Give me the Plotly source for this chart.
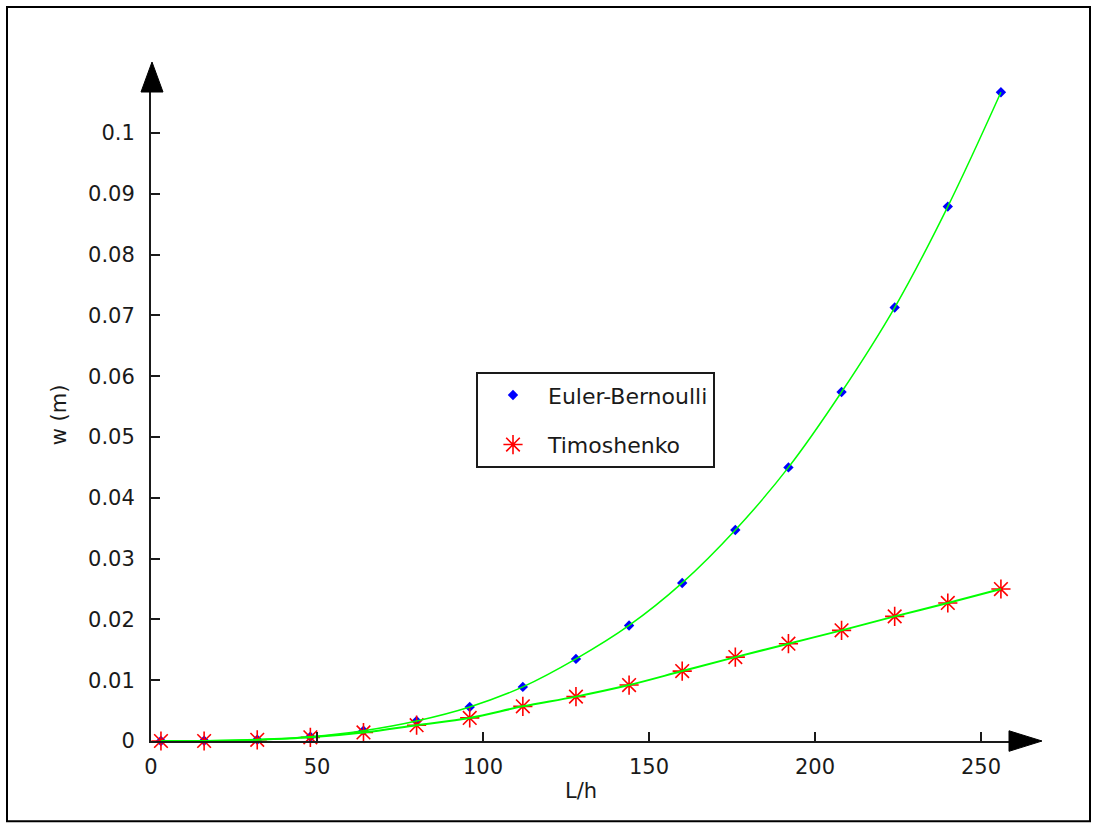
import plotly.graph_objects as go

# ---- data ----
L_over_h = [3, 16, 32, 48, 64, 80, 96, 112, 128, 144, 160, 176, 192, 208, 224, 240, 256]
w_euler = [0.0, 0.00003, 0.0002, 0.0007, 0.0017, 0.0033, 0.0056, 0.0089, 0.0135, 0.0190,
           0.0260, 0.0347, 0.0450, 0.0574, 0.0713, 0.0879, 0.1067]
w_timo = [0.0, 0.0000, 0.0002, 0.0006, 0.0014, 0.0026, 0.0038, 0.0057, 0.0073, 0.0092,
          0.0115, 0.0138, 0.0160, 0.0182, 0.0205, 0.0227, 0.0250]
x_ticks = [0, 50, 100, 150, 200, 250]
y_ticks = [0, 0.01, 0.02, 0.03, 0.04, 0.05, 0.06, 0.07, 0.08, 0.09, 0.1]
y_tick_text = ["0", "0.01", "0.02", "0.03", "0.04", "0.05", "0.06", "0.07", "0.08", "0.09", "0.1"]

W, H = 1097, 828
FONT = "DejaVu Sans"
INK = "#1a1a1a"

# plot-area pixel box
px_l, px_r, px_t, px_b = 151, 1011, 89, 740.7
PW, PH = px_r - px_l, px_b - px_t


def fx(px):
    return (px - px_l) / PW


def fy(py):
    return (px_b - py) / PH


fig = go.Figure()

fig.add_trace(go.Scatter(
    x=L_over_h, y=w_euler, mode="markers", name="Euler-Bernoulli",
    legendgroup="a", cliponaxis=False,
    marker=dict(symbol="diamond", size=8, color="#0000ff", line=dict(width=0)),
))
fig.add_trace(go.Scatter(
    x=L_over_h, y=w_timo, mode="markers", name="Timoshenko",
    legendgroup="b", cliponaxis=False,
    marker=dict(symbol="asterisk-open", size=16, color="#ff0000",
                line=dict(color="#ff0000", width=1.6)),
))
fig.add_trace(go.Scatter(
    x=L_over_h, y=w_euler, mode="lines", showlegend=False, hoverinfo="skip",
    cliponaxis=False,
    line=dict(color="#00ff00", width=1.5, shape="spline"),
))
fig.add_trace(go.Scatter(
    x=L_over_h, y=w_timo, mode="lines", showlegend=False, hoverinfo="skip",
    cliponaxis=False,
    line=dict(color="#00ff00", width=2, shape="spline"),
))

# axis ranges so that the axis lines end at the arrow bases
x_per_px = 50 / 166.0
y_per_px = 0.01 / 60.77
x_max = PW * x_per_px
y_max = PH * y_per_px

fig.update_layout(
    width=W, height=H, autosize=False,
    margin=dict(l=px_l, r=W - px_r, t=px_t, b=H - px_b, pad=0, autoexpand=False),
    paper_bgcolor="white", plot_bgcolor="white",
    font=dict(family=FONT, size=21, color=INK),
    showlegend=True,
    legend=dict(
        x=fx(476), y=fy(372), xanchor="left", yanchor="top",
        bgcolor="white", bordercolor=INK, borderwidth=2,
        font=dict(family=FONT, size=22, color=INK),
        itemwidth=60, tracegroupgap=18, traceorder="grouped",
    ),
    xaxis=dict(
        range=[0, x_max], automargin=False,
        showgrid=False, zeroline=False, showline=True, linecolor=INK, linewidth=2,
        ticks="inside", ticklen=9, tickwidth=1.5, tickcolor=INK,
        tickvals=x_ticks, ticktext=[str(v) for v in x_ticks],
        ticklabelstandoff=6,
        title=dict(text="L/h", font=dict(family=FONT, size=21, color=INK), standoff=5),
    ),
    yaxis=dict(
        range=[0, y_max], automargin=False,
        showgrid=False, zeroline=False, showline=True, linecolor=INK, linewidth=2,
        ticks="inside", ticklen=9, tickwidth=1.5, tickcolor=INK,
        tickvals=y_ticks, ticktext=y_tick_text,
        ticklabelstandoff=10,
        title=dict(text="w (m)", font=dict(family=FONT, size=21, color=INK), standoff=16),
    ),
)

shapes = []
# outer frame
shapes.append(dict(type="rect", xref="paper", yref="paper",
                   x0=fx(7), x1=fx(1090), y0=fy(821), y1=fy(7),
                   line=dict(color="black", width=2), fillcolor="rgba(0,0,0,0)"))
# x-axis arrow head
shapes.append(dict(type="path", xref="paper", yref="paper",
                   path=f"M {fx(1009)},{fy(730.5)} L {fx(1042)},{fy(740.7)} L {fx(1009)},{fy(751)} Z",
                   fillcolor="black", line=dict(color="black", width=1)))
# y-axis arrow head
shapes.append(dict(type="path", xref="paper", yref="paper",
                   path=f"M {fx(141)},{fy(92)} L {fx(152)},{fy(62)} L {fx(163)},{fy(92)} Z",
                   fillcolor="black", line=dict(color="black", width=1)))
fig.update_layout(shapes=shapes)

fig.write_html("out.html")
